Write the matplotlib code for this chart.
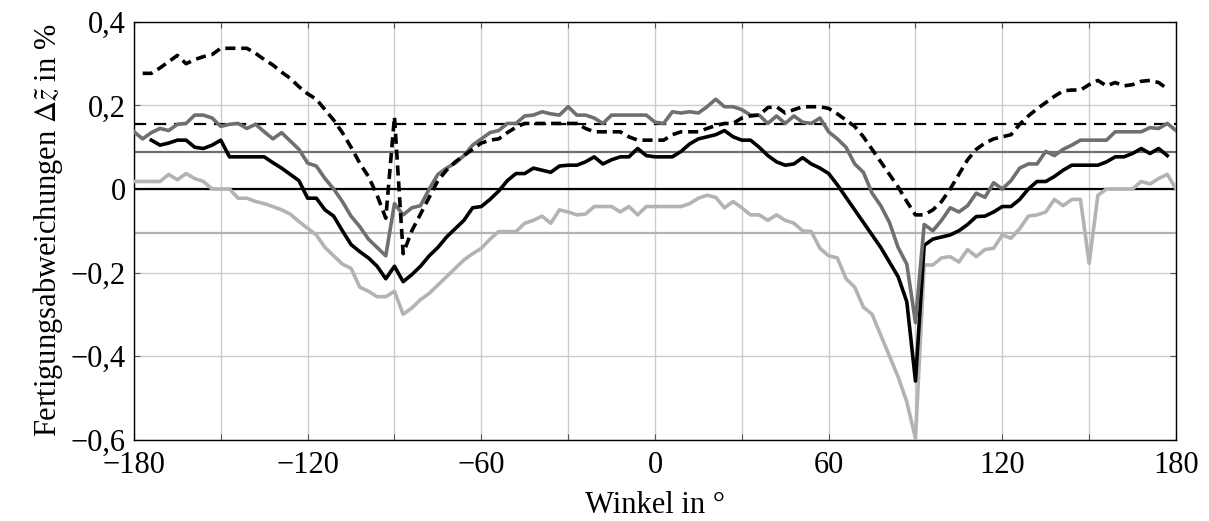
"""Fertigungsabweichungen über dem Winkel, vier Kurven plus Mittelwertlinien."""

import matplotlib

matplotlib.use("Agg")
import matplotlib.pyplot as plt
import numpy as np
from matplotlib.ticker import FuncFormatter, MultipleLocator

nan = np.nan

# Winkel in 3°-Schritten
angle = np.arange(-180, 181, 3)

dz_dashed = [
    nan, 0.277, 0.277, 0.29, 0.305, 0.32, 0.30, 0.31, 0.317, 0.322,
    0.337, 0.337, 0.337, 0.337, 0.325, 0.31, 0.297, 0.28, 0.265, 0.245,
    0.228, 0.215, 0.19, 0.165, 0.135, 0.10, 0.062, 0.03, -0.015, -0.07,
    0.173, -0.155, -0.10, -0.06, -0.02, 0.02, 0.045, 0.065, 0.08, 0.095,
    0.11, 0.117, 0.12, 0.135, 0.148, 0.157, 0.157, 0.157, 0.157, 0.157,
    0.157, 0.157, 0.145, 0.137, 0.137, 0.137, 0.137, 0.125, 0.117, 0.117,
    0.117, 0.117, 0.13, 0.137, 0.137, 0.137, 0.145, 0.152, 0.157, 0.157,
    0.17, 0.175, 0.177, 0.195, 0.197, 0.182, 0.19, 0.197, 0.197, 0.197,
    0.193, 0.18, 0.165, 0.15, 0.125, 0.095, 0.065, 0.035, 0.005, -0.03,
    -0.062, -0.062, -0.05, -0.03, 0.0, 0.035, 0.07, 0.095, 0.11, 0.12,
    0.125, 0.13, 0.155, 0.175, 0.192, 0.207, 0.222, 0.235, 0.237, 0.237,
    0.25, 0.26, 0.247, 0.255, 0.247, 0.25, 0.258, 0.26, 0.255, 0.24,
    nan,
]

dz_dark = [
    0.137, 0.12, 0.135, 0.145, 0.14, 0.155, 0.157, 0.177, 0.177, 0.17,
    0.15, 0.155, 0.157, 0.145, 0.155, 0.137, 0.12, 0.135, 0.115, 0.095,
    0.062, 0.055, 0.025, 0.0, -0.03, -0.065, -0.09, -0.12, -0.14, -0.16,
    -0.035, -0.062, -0.045, -0.04, 0.0, 0.035, 0.05, 0.062, 0.08, 0.105,
    0.12, 0.135, 0.14, 0.157, 0.157, 0.175, 0.177, 0.185, 0.18, 0.177,
    0.197, 0.177, 0.177, 0.17, 0.157, 0.177, 0.177, 0.177, 0.177, 0.177,
    0.16, 0.157, 0.185, 0.182, 0.185, 0.182, 0.197, 0.215, 0.197, 0.197,
    0.19, 0.177, 0.177, 0.157, 0.175, 0.157, 0.175, 0.16, 0.157, 0.17,
    0.137, 0.12, 0.1, 0.06, 0.04, -0.01, -0.04, -0.08, -0.14, -0.18,
    -0.32, -0.085, -0.1, -0.075, -0.045, -0.055, -0.04, -0.01, -0.02, 0.015,
    0.0, 0.02, 0.05, 0.06, 0.06, 0.09, 0.08, 0.095, 0.105, 0.117,
    0.117, 0.117, 0.117, 0.137, 0.137, 0.137, 0.137, 0.147, 0.145, 0.157,
    0.14,
]

dz_black = [
    nan, nan, 0.117, 0.105, 0.11, 0.117, 0.117, 0.1, 0.097, 0.105,
    0.117, 0.077, 0.077, 0.077, 0.077, 0.077, 0.063, 0.05, 0.035, 0.02,
    -0.022, -0.022, -0.05, -0.065, -0.1, -0.133, -0.15, -0.165, -0.185, -0.215,
    -0.185, -0.222, -0.205, -0.185, -0.16, -0.14, -0.115, -0.095, -0.075, -0.045,
    -0.042, -0.025, -0.005, 0.02, 0.037, 0.037, 0.05, 0.045, 0.04, 0.055,
    0.057, 0.057, 0.065, 0.077, 0.06, 0.07, 0.077, 0.077, 0.097, 0.08,
    0.077, 0.077, 0.077, 0.09, 0.108, 0.12, 0.125, 0.13, 0.14, 0.125,
    0.117, 0.117, 0.1, 0.08, 0.065, 0.057, 0.06, 0.075, 0.06, 0.05,
    0.037, 0.01, -0.02, -0.05, -0.08, -0.11, -0.14, -0.175, -0.21, -0.27,
    -0.46, -0.135, -0.12, -0.115, -0.11, -0.1, -0.085, -0.066, -0.065, -0.055,
    -0.042, -0.042, -0.025, 0.0, 0.018, 0.018, 0.03, 0.045, 0.057, 0.057,
    0.057, 0.057, 0.065, 0.077, 0.077, 0.085, 0.097, 0.085, 0.097, 0.08,
    nan,
]

dz_light = [
    0.018, 0.018, 0.018, 0.018, 0.035, 0.022, 0.037, 0.025, 0.018, 0.0,
    0.0, 0.0, -0.022, -0.022, -0.03, -0.035, -0.042, -0.05, -0.06, -0.078,
    -0.094, -0.11, -0.14, -0.16, -0.18, -0.19, -0.235, -0.245, -0.258, -0.258,
    -0.245, -0.30, -0.285, -0.265, -0.25, -0.23, -0.21, -0.19, -0.17, -0.155,
    -0.142, -0.12, -0.102, -0.102, -0.102, -0.082, -0.075, -0.065, -0.082, -0.05,
    -0.055, -0.062, -0.06, -0.042, -0.042, -0.042, -0.055, -0.042, -0.062, -0.042,
    -0.042, -0.042, -0.042, -0.042, -0.035, -0.022, -0.015, -0.02, -0.045, -0.03,
    -0.045, -0.062, -0.062, -0.075, -0.062, -0.075, -0.082, -0.1, -0.102, -0.142,
    -0.16, -0.165, -0.215, -0.235, -0.283, -0.30, -0.35, -0.40, -0.45, -0.51,
    -0.597, -0.182, -0.182, -0.165, -0.162, -0.175, -0.145, -0.162, -0.145, -0.142,
    -0.11, -0.118, -0.095, -0.065, -0.062, -0.055, -0.025, -0.04, -0.025, -0.025,
    -0.178, -0.015, 0.0, 0.0, 0.0, 0.0, 0.018, 0.012, 0.025, 0.035,
    0.0,
]

# Mittelwerte der vier Kurven
mean_dashed = 0.156
mean_dark = 0.089
mean_black = 0.0
mean_light = -0.105

DARK = "#6f6f6f"
LIGHT = "#b3b3b3"

plt.rcParams["font.family"] = ["Liberation Serif", "DejaVu Serif"]
plt.rcParams["mathtext.fontset"] = "stix"
plt.rcParams["font.size"] = 22

fig = plt.figure(figsize=(12.09, 5.21), dpi=100)
ax = fig.add_axes([0.1108, 0.1564, 0.8619, 0.8014])

# Mittelwertlinien
ax.axhline(mean_light, color=LIGHT, linewidth=1.6, zorder=2)
ax.axhline(mean_black, color="black", linewidth=1.6, zorder=2)
ax.axhline(mean_dark, color=DARK, linewidth=1.6, zorder=2)
ax.axhline(mean_dashed, color="black", linewidth=1.6, linestyle=(0, (5.5, 3.5)), zorder=2)

# Messkurven
ax.plot(angle, dz_light, color=LIGHT, linewidth=2.6, zorder=3)
ax.plot(angle, dz_black, color="black", linewidth=2.6, zorder=4)
ax.plot(angle, dz_dark, color=DARK, linewidth=2.6, zorder=4)
ax.plot(angle, dz_dashed, color="black", linewidth=2.6, linestyle=(0, (2.8, 1.6)), zorder=5)

ax.set_xlim(-180, 180)
ax.set_ylim(-0.6, 0.4)
ax.xaxis.set_major_locator(MultipleLocator(60))
ax.xaxis.set_minor_locator(MultipleLocator(30))
ax.yaxis.set_major_locator(MultipleLocator(0.2))


def _fmt(v, _pos):
    v = round(v, 2)
    if v == 0:
        return "0"
    s = f"{abs(v):g}".replace(".", ",")
    return ("\u2212" if v < 0 else "") + s


ax.xaxis.set_major_formatter(FuncFormatter(_fmt))
ax.yaxis.set_major_formatter(FuncFormatter(_fmt))

ax.grid(which="both", axis="x", color="#cccccc", linewidth=1.0, zorder=0)
ax.grid(which="major", axis="y", color="#cccccc", linewidth=1.0, zorder=0)
ax.set_axisbelow(True)
ax.tick_params(which="both", direction="in", top=True, right=True,
               length=4, width=0.8, color="#555555")
ax.tick_params(axis="x", pad=8)
ax.tick_params(axis="y", pad=6)
for sp in ax.spines.values():
    sp.set_linewidth(1.0)

ax.set_xlabel("Winkel in °", labelpad=8)
ax.set_ylabel(r"Fertigungsabweichungen $\mathit{\Delta}\tilde{z}$ in %", labelpad=4)

fig.savefig("out.png", dpi=100)
